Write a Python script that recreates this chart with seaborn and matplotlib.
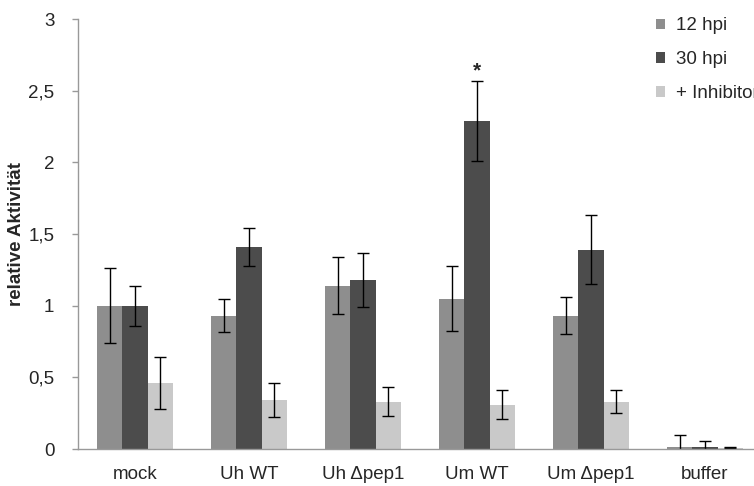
import matplotlib
matplotlib.use("Agg")
import matplotlib.pyplot as plt
import seaborn as sns
import pandas as pd

categories = ["mock", "Uh WT", "Uh \u0394pep1", "Um WT", "Um \u0394pep1", "buffer"]
series = ["12 hpi", "30 hpi", "+ Inhibitor"]
vals_12 = [1.00, 0.93, 1.14, 1.05, 0.93, 0.015]
vals_30 = [1.00, 1.41, 1.18, 2.29, 1.39, 0.012]
vals_inh = [0.46, 0.34, 0.33, 0.31, 0.33, 0.01]
err_12 = [0.26, 0.115, 0.20, 0.23, 0.13, 0.085]
err_30 = [0.14, 0.13, 0.19, 0.28, 0.24, 0.047]
err_inh = [0.18, 0.12, 0.10, 0.10, 0.08, 0.006]
yticks = [0, 0.5, 1, 1.5, 2, 2.5, 3]
ytick_labels = ["0", "0,5", "1", "1,5", "2", "2,5", "3"]
star_category = "Um WT"
star_y = 2.64

colors = ["#8e8e8e", "#4c4c4c", "#c9c9c9"]

rows = []
for s, v in zip(series, [vals_12, vals_30, vals_inh]):
    for c, val in zip(categories, v):
        rows.append({"cat": c, "series": s, "value": val})
df = pd.DataFrame(rows)

sns.set_style("white")
plt.rcParams["font.family"] = ["Liberation Sans", "DejaVu Sans"]

fig = plt.figure(figsize=(7.54, 4.86), dpi=100)
ax = fig.add_axes([78 / 754, 1 - 449 / 486, (762 - 78) / 754, (449 - 19) / 486])

sns.barplot(data=df, x="cat", y="value", hue="series", order=categories,
            hue_order=series, palette=colors, width=2 / 3, errorbar=None,
            linewidth=0, saturation=1, ax=ax)

for cont, errs, vals in zip(ax.containers, [err_12, err_30, err_inh], [vals_12, vals_30, vals_inh]):
    xs = [b.get_x() + b.get_width() / 2 for b in cont]
    ax.errorbar(xs, vals, yerr=errs, fmt="none", ecolor="black", elinewidth=1.0,
                capsize=4, capthick=1.0)

ax.text(categories.index(star_category), star_y, "*", ha="center", va="center",
        fontsize=15, fontweight="bold")

ax.set_ylim(0, 3)
ax.set_xlim(-0.5, 5.5)
ax.set_yticks(yticks)
ax.set_yticklabels(ytick_labels)
ax.set_xlabel("")
ax.set_ylabel("relative Aktivit\u00e4t", fontsize=13.5, fontweight="bold")
ax.yaxis.set_label_coords(-(78 - 25) / 684, 0.5)
ax.tick_params(axis="y", which="both", left=True, length=4, width=1, color="#999999",
               pad=13, labelsize=13.5)
ax.tick_params(axis="x", length=0, pad=12, labelsize=13.5)
for side in ["top", "right"]:
    ax.spines[side].set_visible(False)
for side in ["left", "bottom"]:
    ax.spines[side].set_color("#999999")
    ax.spines[side].set_linewidth(1)

handles, labels = ax.get_legend_handles_labels()
ax.legend(handles, labels, loc="upper left", bbox_to_anchor=(648 / 754, 1 - 10 / 486),
          bbox_transform=fig.transFigure, frameon=False, fontsize=13.5,
          handlelength=0.48, handleheight=0.48, handletextpad=0.6, labelspacing=0.9,
          borderaxespad=0)

fig.savefig("out.png", dpi=100)
